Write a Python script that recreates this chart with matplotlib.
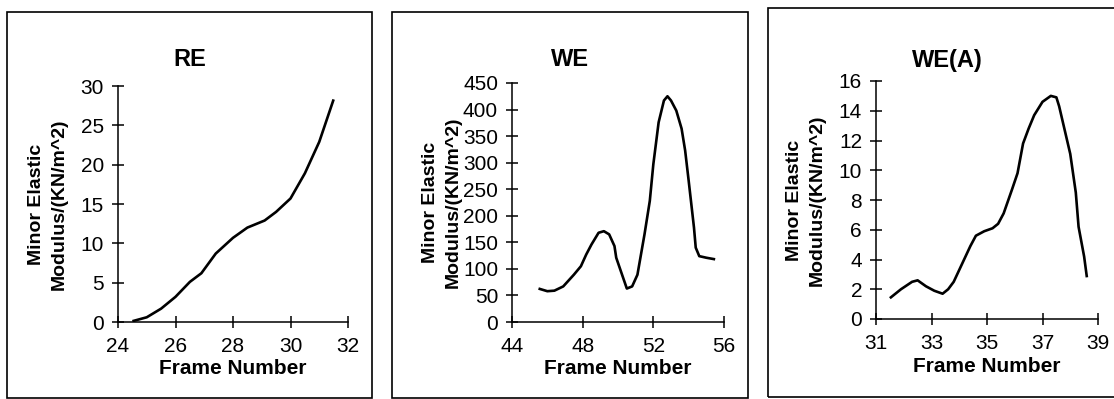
import matplotlib
matplotlib.use("Agg")
import matplotlib.pyplot as plt
from matplotlib.patches import Rectangle

plt.rcParams['font.family'] = ['Liberation Sans', 'DejaVu Sans']

# --- data ---
re_frame = [24.5, 25.0, 25.5, 26.0, 26.5, 26.9, 27.4, 28.0, 28.5, 29.1, 29.5,
            30.0, 30.5, 31.0, 31.5]
re_modulus = [0.1, 0.6, 1.7, 3.2, 5.1, 6.2, 8.7, 10.7, 12.0, 12.9, 14.0,
              15.7, 18.9, 22.9, 28.3]

we_frame = [45.5, 46.0, 46.4, 46.9, 47.5, 47.9, 48.2, 48.5, 48.9, 49.2, 49.5,
            49.8, 49.9, 50.5, 50.8, 51.1, 51.5, 51.8, 52.0, 52.3, 52.6, 52.8,
            53.0, 53.3, 53.6, 53.8, 54.0, 54.3, 54.4, 54.6, 55.0, 55.5]
we_modulus = [63, 58, 59, 67, 89, 105, 127, 146, 168, 171, 165,
              143, 121, 63, 67, 89, 165, 228, 297, 376, 417, 425,
              417, 398, 364, 323, 266, 178, 140, 124, 121, 118]

wea_frame = [31.5, 31.9, 32.3, 32.5, 32.8, 33.1, 33.4, 33.6, 33.8, 34.1, 34.4,
             34.6, 34.9, 35.2, 35.4, 35.6, 35.9, 36.1, 36.3, 36.5, 36.7, 37.0,
             37.3, 37.5, 37.6, 37.8, 38.0, 38.2, 38.3, 38.5, 38.6]
wea_modulus = [1.4, 2.0, 2.5, 2.6, 2.2, 1.9, 1.7, 2.0, 2.5, 3.7, 4.9,
               5.6, 5.9, 6.1, 6.4, 7.1, 8.7, 9.8, 11.8, 12.8, 13.7, 14.6,
               15.0, 14.9, 14.3, 12.7, 11.1, 8.5, 6.2, 4.2, 2.8]

panels = [
    # title, x, y, xticks, yticks, axes box (px: left, right, top, bottom), frame box (px)
    ('RE', re_frame, re_modulus, [24, 26, 28, 30, 32], list(range(0, 31, 5)),
     (118, 348, 86, 322), (7, 372, 12, 398)),
    ('WE', we_frame, we_modulus, [44, 48, 52, 56], list(range(0, 451, 50)),
     (512, 724, 83, 322), (392, 748, 12, 398)),
    ('WE(A)', wea_frame, wea_modulus, [31, 33, 35, 37, 39], list(range(0, 17, 2)),
     (876, 1098, 81, 319), (768, 1126, 8, 397)),
]

W, H = 1114, 399
fig = plt.figure(figsize=(W / 100, H / 100), dpi=100)

for title, xs, ys, xticks, yticks, (l, r, t, b), (fl, fr, ft, fb) in panels:
    ax = fig.add_axes([l / W, 1 - b / H, (r - l) / W, (b - t) / H])
    ax.plot(xs, ys, color='black', lw=1.9, solid_capstyle='butt')
    ax.set_xlim(xticks[0], xticks[-1])
    ax.set_ylim(yticks[0], yticks[-1])
    ax.set_xticks(xticks)
    ax.set_yticks(yticks)
    for side in ['top', 'right']:
        ax.spines[side].set_visible(False)
    for side in ['left', 'bottom']:
        ax.spines[side].set_linewidth(1.1)
    ax.tick_params(axis='x', direction='inout', length=9, width=1.1, pad=6, labelsize=15)
    ax.tick_params(axis='y', direction='inout', length=8, width=1.1, pad=6, labelsize=15)
    ax.patch.set_alpha(0)

    # x label right under the tick labels, centred on the axes
    fig.text((l + r) / 2 / W, 1 - (b + 47) / H, 'Frame Number', ha='center',
             va='center', fontsize=15, fontweight='bold')
    # y label sits to the left of the axes, centred on it
    fig.text((l - 70) / W, 1 - (t + b) / 2 / H, 'Minor Elastic\nModulus/(KN/m^2)',
             rotation=90, ha='center', va='center', fontsize=14,
             fontweight='bold', linespacing=1.45)
    # title is centred on the whole chart frame
    fig.text((fl + fr) / 2 / W, 1 - 60 / H, title, ha='center', va='center',
             fontsize=17, fontweight='bold')

    fig.patches.append(Rectangle((fl / W, 1 - fb / H), (fr - fl) / W, (fb - ft) / H,
                                 transform=fig.transFigure, fill=False,
                                 edgecolor='black', lw=1.2, clip_on=False))

fig.savefig('out.png', dpi=100)
